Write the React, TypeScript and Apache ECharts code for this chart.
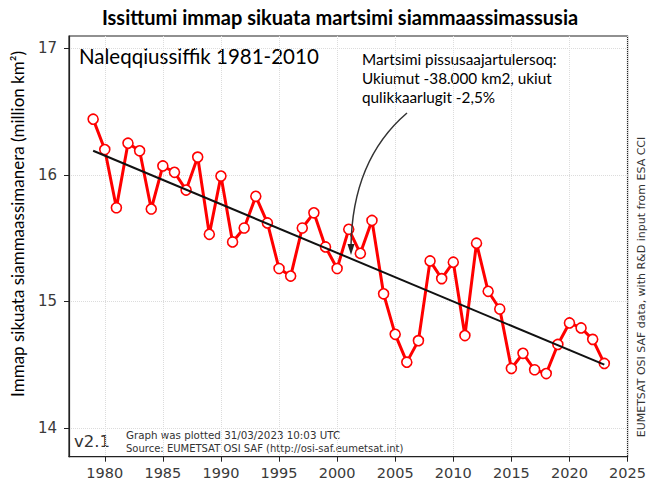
import React, { useEffect, useRef } from "react";
import * as echarts from "echarts";

const years: number[] = [
  1979, 1980, 1981, 1982, 1983, 1984, 1985, 1986, 1987, 1988, 1989, 1990,
  1991, 1992, 1993, 1994, 1995, 1996, 1997, 1998, 1999, 2000, 2001, 2002,
  2003, 2004, 2005, 2006, 2007, 2008, 2009, 2010, 2011, 2012, 2013, 2014,
  2015, 2016, 2017, 2018, 2019, 2020, 2021, 2022, 2023,
];
const extentValues: number[] = [
  16.44, 16.2, 15.74, 16.25, 16.19, 15.73, 16.07, 16.02, 15.88, 16.14, 15.53, 15.99,
  15.47, 15.58, 15.83, 15.62, 15.26, 15.2, 15.58, 15.7, 15.43, 15.26, 15.57, 15.38,
  15.64, 15.06, 14.74, 14.52, 14.69, 15.32, 15.18, 15.31, 14.73, 15.46, 15.08, 14.94,
  14.47, 14.59, 14.46, 14.43, 14.66, 14.83, 14.79, 14.7, 14.51,
];
const trendYears: number[] = [1979, 2023];
const trendValues: number[] = [16.19, 14.5];
const xTicks: number[] = [1980, 1985, 1990, 1995, 2000, 2005, 2010, 2015, 2020, 2025];
const yTicks: number[] = [14, 15, 16, 17];

const titleText = "Issittumi immap sikuata martsimi siammaassimassusia";
const refText = "Naleqqiussiffik 1981-2010";
const noteLines: string[] = [
  "Martsimi pissusaajartulersoq:",
  "Ukiumut -38.000 km2, ukiut",
  "qulikkaarlugit -2,5%",
];
const yName = "Immap sikuata siammaassimanera (million km²)";
const versionText = "v2.1";
const plottedText = "Graph was plotted 31/03/2023 10:03 UTC";
const sourceText = "Source: EUMETSAT OSI SAF (http://osi-saf.eumetsat.int)";
const creditText = "EUMETSAT OSI SAF data, with R&D input from ESA CCI";

const CAL = "Lato, 'Open Sans', sans-serif";
const DJ = "'DejaVu Sans', sans-serif";

export default function App() {
  const ref = useRef<HTMLDivElement>(null);
  useEffect(() => {
    if (!ref.current) return;
    const chart = echarts.init(ref.current, null, { renderer: "svg" });
    const data = years.map((y, i) => [y, extentValues[i]]);
    const trend = trendYears.map((y, i) => [y, trendValues[i]]);
    chart.setOption({
      animation: false,
      backgroundColor: "#ffffff",
      grid: {
        left: 69,
        right: 18,
        top: 36,
        bottom: 28.3,
        show: true,
        borderColor: "#222",
        borderWidth: 1.2,
        backgroundColor: "transparent",
      },
      xAxis: {
        type: "value",
        min: 1976.92,
        max: 2025,
        axisLine: { show: true, onZero: false, lineStyle: { color: "#222", width: 1.2 } },
        axisTick: { show: true, length: 5, customValues: xTicks, lineStyle: { color: "#222" } },
        axisLabel: {
          customValues: xTicks,
          margin: 9,
          fontSize: 14.5,
          fontFamily: DJ,
          color: "#3a3a3a",
          formatter: (v: number) => String(v),
        },
        splitLine: { show: true, lineStyle: { color: "#dcdcdc", type: "dotted", width: 1 } },
      },
      yAxis: {
        type: "value",
        min: 13.773,
        max: 17.097,
        axisLine: { show: true, onZero: false, lineStyle: { color: "#222", width: 1.2 } },
        axisTick: { show: true, length: 5, customValues: yTicks, lineStyle: { color: "#222" } },
        axisLabel: {
          customValues: yTicks,
          margin: 12,
          fontSize: 15,
          fontFamily: DJ,
          color: "#3a3a3a",
          formatter: (v: number) => String(v),
        },
        splitLine: { show: true, lineStyle: { color: "#dcdcdc", type: "dotted", width: 1 } },
      },
      series: [
        {
          type: "line",
          data,
          z: 3,
          lineStyle: { color: "#ff0000", width: 3 },
          symbol: "circle",
          symbolSize: 10,
          showAllSymbol: true,
          itemStyle: { color: "#ffffff", borderColor: "#ff0000", borderWidth: 1.6 },
        },
        {
          type: "line",
          data: trend,
          z: 4,
          symbol: "none",
          lineStyle: { color: "#111", width: 2 },
        },
      ],
      graphic: [
        {
          type: "text",
          x: 340,
          y: 17,
          style: {
            text: titleText,
            fontFamily: CAL,
            fontWeight: "bold",
            fontSize: 20,
            fill: "#000",
            textAlign: "center",
            textVerticalAlign: "middle",
          },
        },
        {
          type: "text",
          x: 79,
          y: 56,
          style: {
            text: refText,
            fontFamily: CAL,
            fontSize: 20.5,
            fill: "#000",
            textAlign: "left",
            textVerticalAlign: "middle",
          },
        },
        ...noteLines.map((t, i) => ({
          type: "text",
          x: 362,
          y: 58.5 + i * 19,
          style: {
            text: t,
            fontFamily: CAL,
            fontSize: 15.3,
            fill: "#000",
            textAlign: "left",
            textVerticalAlign: "middle",
          },
        })),
        {
          type: "text",
          x: 17,
          y: 224,
          rotation: Math.PI / 2,
          style: {
            text: yName,
            fontFamily: CAL,
            fontSize: 17,
            fill: "#000",
            textAlign: "center",
            textVerticalAlign: "middle",
          },
        },
        {
          type: "bezierCurve",
          shape: { x1: 407, y1: 113, x2: 351, y2: 247, cpx1: 352, cpy1: 160 },
          style: { stroke: "#333", lineWidth: 1.5, fill: null },
          z: 10,
        },
        {
          type: "polygon",
          shape: { points: [[347.5, 244], [354.5, 244], [351, 255]] },
          style: { fill: "#222" },
          z: 10,
        },
        {
          type: "text",
          x: 74,
          y: 441,
          style: {
            text: versionText,
            fontFamily: DJ,
            fontSize: 16.5,
            fill: "#333",
            textAlign: "left",
            textVerticalAlign: "middle",
          },
        },
        {
          type: "text",
          x: 126,
          y: 435,
          style: {
            text: plottedText,
            fontFamily: DJ,
            fontSize: 10.3,
            fill: "#333",
            textAlign: "left",
            textVerticalAlign: "middle",
          },
        },
        {
          type: "text",
          x: 126,
          y: 448,
          style: {
            text: sourceText,
            fontFamily: DJ,
            fontSize: 10,
            fill: "#333",
            textAlign: "left",
            textVerticalAlign: "middle",
          },
        },
        {
          type: "text",
          x: 641,
          y: 287,
          rotation: Math.PI / 2,
          style: {
            text: creditText,
            fontFamily: DJ,
            fontSize: 11,
            fill: "#333",
            textAlign: "center",
            textVerticalAlign: "middle",
          },
        },
      ],
    });
    return () => chart.dispose();
  }, []);
  return (
    <div
      ref={ref}
      style={{ position: "fixed", left: 0, top: 0, width: 649, height: 485, background: "#fff" }}
    />
  );
}
